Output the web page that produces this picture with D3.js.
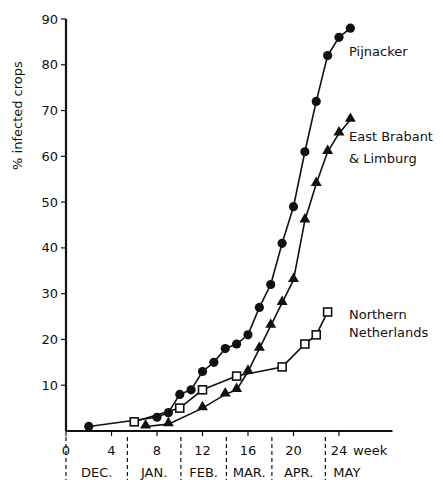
<!DOCTYPE html>
<html lang="en">
<head>
  <meta charset="UTF-8">
  <title>% infected crops by week</title>
  <script src="https://d3js.org/d3.v7.min.js"></script>
  <style>
    body { margin: 0; background: white; }
    svg { display: block; }
    text { font-family: 'DejaVu Sans', sans-serif; font-size: 13px; fill: #111; }
    .series { fill: none; stroke: #111; stroke-width: 1.6px; }
  </style>
</head>
<body>
<svg width="443" height="480"></svg>
<script>
// data (week, % infected crops)
const pijnackerWeeks  = [2, 8, 9, 10, 11, 12, 13, 14, 15, 16, 17, 18, 19, 20, 21, 22, 23, 24, 25];
const pijnackerValues = [1, 3, 4, 8, 9, 13, 15, 18, 19, 21, 27, 32, 41, 49, 61, 72, 82, 86, 88];

const brabantWeeks  = [7, 9, 12, 14, 15, 16, 17, 18, 19, 20, 21, 22, 23, 24, 25];
const brabantValues = [1, 1.5, 5, 8, 9, 13, 18, 23, 28, 33, 46, 54, 61, 65, 68];

const northWeeks  = [6, 10, 12, 15, 19, 21, 22, 23];
const northValues = [2, 5, 9, 12, 14, 19, 21, 26];

const yTicks = [10, 20, 30, 40, 50, 60, 70, 80, 90];
const xTicks = [0, 4, 8, 12, 16, 20, 24];
const monthNames  = ["DEC.", "JAN.", "FEB.", "MAR.", "APR.", "MAY"];
const monthStarts = [0, 5.4, 10.1, 14.1, 18.1, 22.8];
const monthEnds   = [5.4, 10.1, 14.1, 18.1, 22.8, 26];

const svg = d3.select("svg");

const x = d3.scaleLinear().domain([0, 24]).range([66, 339]);
const y = d3.scaleLinear().domain([0, 90]).range([431, 19]);

// axes
svg.append("line")
  .attr("x1", x(0)).attr("x2", x(0))
  .attr("y1", y(90)).attr("y2", y(0))
  .attr("stroke", "#111").attr("stroke-width", 2.2);

svg.append("line")
  .attr("x1", x(0)).attr("x2", x(28.7))
  .attr("y1", y(0)).attr("y2", y(0))
  .attr("stroke", "#111").attr("stroke-width", 2.2);

yTicks.forEach(t => {
  svg.append("line")
    .attr("x1", x(0) - 5).attr("x2", x(0))
    .attr("y1", y(t)).attr("y2", y(t))
    .attr("stroke", "#111").attr("stroke-width", 1.2);
  svg.append("text")
    .attr("x", x(0) - 8).attr("y", y(t))
    .attr("dy", "0.35em")
    .attr("text-anchor", "end")
    .text(t);
});

xTicks.forEach(t => {
  svg.append("line")
    .attr("x1", x(t)).attr("x2", x(t))
    .attr("y1", y(0)).attr("y2", y(0) + 5)
    .attr("stroke", "#111").attr("stroke-width", 1.2);
  svg.append("text")
    .attr("x", x(t)).attr("y", 455)
    .attr("text-anchor", "middle")
    .text(t);
});

svg.append("text")
  .attr("x", x(24) + 14).attr("y", 455)
  .text("week");

// y label
svg.append("text")
  .attr("transform", `translate(22,${(y(90) + y(50)) / 2 + 5}) rotate(-90)`)
  .attr("text-anchor", "middle")
  .text("% infected crops");

// month bands
monthStarts.forEach(m => {
  svg.append("line")
    .attr("x1", x(m)).attr("x2", x(m))
    .attr("y1", 437).attr("y2", 480)
    .attr("stroke", "#111").attr("stroke-width", 1.2)
    .attr("stroke-dasharray", "4,3");
});
monthNames.forEach((m, i) => {
  svg.append("text")
    .attr("x", i === 5 ? x(monthStarts[i]) + 8 : (x(monthStarts[i]) + x(monthEnds[i])) / 2)
    .attr("y", 477)
    .attr("text-anchor", i === 5 ? "start" : "middle")
    .text(m);
});

// series
const line = d3.line().x(d => x(d[0])).y(d => y(d[1]));
const zip = (a, b) => a.map((v, i) => [v, b[i]]);

const north = zip(northWeeks, northValues);
const brabant = zip(brabantWeeks, brabantValues);
const pijn = zip(pijnackerWeeks, pijnackerValues);

[north, brabant, pijn].forEach(s => {
  svg.append("path").attr("class", "series").attr("d", line(s));
});

svg.selectAll(".circ").data(pijn).join("circle")
  .attr("cx", d => x(d[0])).attr("cy", d => y(d[1]))
  .attr("r", 4.6).attr("fill", "#111");

const tri = d3.symbol().type(d3.symbolTriangle).size(52);
svg.selectAll(".tri").data(brabant).join("path")
  .attr("transform", d => `translate(${x(d[0])},${y(d[1]) - 1})`)
  .attr("d", tri).attr("fill", "#111");

svg.selectAll(".sq").data(north).join("rect")
  .attr("x", d => x(d[0]) - 4).attr("y", d => y(d[1]) - 4)
  .attr("width", 8).attr("height", 8)
  .attr("fill", "white").attr("stroke", "#111").attr("stroke-width", 1.6);

// series labels
const labels = [
  ["Pijnacker", 51],
  ["East Brabant", 136],
  ["& Limburg", 158],
  ["Northern", 314],
  ["Netherlands", 332]
];
labels.forEach(([t, yy]) => {
  svg.append("text")
    .attr("x", 349).attr("y", yy)
    .attr("dy", "0.35em")
    .text(t);
});
</script>
</body>
</html>
